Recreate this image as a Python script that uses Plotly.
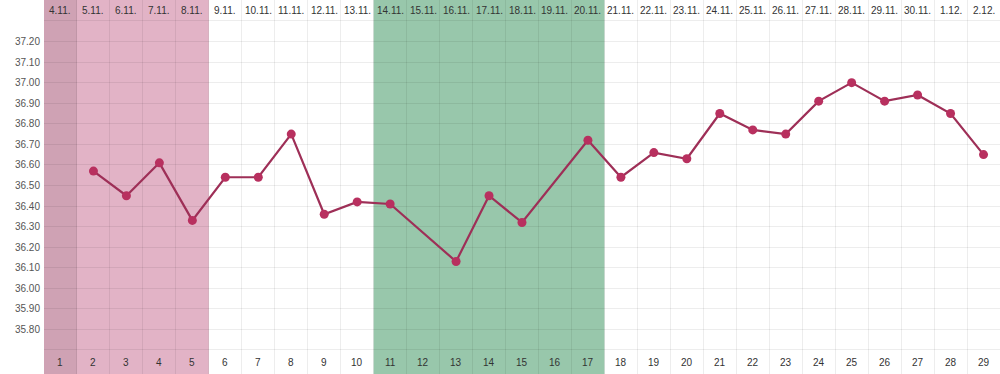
import plotly.graph_objects as go

dates = ["4.11.", "5.11.", "6.11.", "7.11.", "8.11.", "9.11.", "10.11.", "11.11.", "12.11.", "13.11.",
         "14.11.", "15.11.", "16.11.", "17.11.", "18.11.", "19.11.", "20.11.", "21.11.", "22.11.", "23.11.",
         "24.11.", "25.11.", "26.11.", "27.11.", "28.11.", "29.11.", "30.11.", "1.12.", "2.12."]
cycle_days = list(range(1, 30))
temps = [None, 36.57, 36.45, 36.61, 36.33, 36.54, 36.54, 36.75, 36.36, 36.42,
         36.41, None, 36.13, 36.45, 36.32, None, 36.72, 36.54, 36.66, 36.63,
         36.85, 36.77, 36.75, 36.91, 37.00, 36.91, 36.94, 36.85, 36.65]
y_ticks = [round(35.7 + 0.1 * i, 2) for i in range(17)]
period_days = [1, 5]        # first shaded block (day 1 darker)
fertile_days = [11, 17]

FONT = "Liberation Sans, Arial, sans-serif"
Y_MIN, Y_MAX = 35.583, 37.402
HEADER_Y = 37.350
FOOTER_Y = 35.640

fig = go.Figure()

fig.add_trace(go.Scatter(
    x=cycle_days, y=temps, mode="lines+markers", connectgaps=True,
    line=dict(color="#9e2f57", width=2.2),
    marker=dict(color="#b8305f", size=9),
    hoverinfo="skip", showlegend=False,
))

shapes = [
    dict(type="rect", xref="x", yref="paper", x0=period_days[0] - 0.5, x1=period_days[1] + 0.5,
         y0=0, y1=1, fillcolor="#e2b3c6", line_width=0, layer="below"),
    dict(type="rect", xref="x", yref="paper", x0=period_days[0] - 0.5, x1=period_days[0] + 0.5,
         y0=0, y1=1, fillcolor="#cfa2b4", line_width=0, layer="below"),
    dict(type="rect", xref="x", yref="paper", x0=fertile_days[0] - 0.5, x1=fertile_days[1] + 0.5,
         y0=0, y1=1, fillcolor="#98c7ab", line_width=0, layer="below"),
]

annotations = []
for d, lab in zip(cycle_days, dates):
    annotations.append(dict(x=d, y=HEADER_Y, xref="x", yref="y", text=lab, showarrow=False,
                            font=dict(family=FONT, size=10, color="#333333")))
    annotations.append(dict(x=d, y=FOOTER_Y, xref="x", yref="y", text=str(d), showarrow=False,
                            font=dict(family=FONT, size=10, color="#333333")))
annotations.append(dict(x=0.42, y=HEADER_Y, xref="x", yref="y", text="Datum", showarrow=False,
                        xanchor="right", font=dict(family=FONT, size=10, color="#444444")))
annotations.append(dict(x=0.42, y=FOOTER_Y, xref="x", yref="y", text="Zyklus", showarrow=False,
                        xanchor="right", font=dict(family=FONT, size=10, color="#444444")))

fig.update_layout(
    width=1000, height=374,
    margin=dict(l=44, r=0, t=0, b=0),
    paper_bgcolor="white", plot_bgcolor="white",
    shapes=shapes, annotations=annotations,
    xaxis=dict(range=[0.5, 29.5], tickvals=[i + 0.5 for i in range(0, 30)],
               showticklabels=False, showgrid=True, gridcolor="rgba(0,0,0,0.07)",
               gridwidth=1, zeroline=False, showline=False, ticks=""),
    yaxis=dict(range=[Y_MIN, Y_MAX], tickvals=y_ticks,
               ticktext=["" if (v < 35.75 or v > 37.25) else f"{v:.2f}" for v in y_ticks],
               showgrid=True, gridcolor="rgba(0,0,0,0.07)", gridwidth=1,
               zeroline=False, showline=False, ticks="", ticklabelstandoff=3,
               tickfont=dict(family=FONT, size=10, color="#555555")),
)

fig.write_html("out.html", config={"displayModeBar": False, "staticPlot": True},
               post_script="document.body.style.margin='0';document.body.style.overflow='hidden';")
